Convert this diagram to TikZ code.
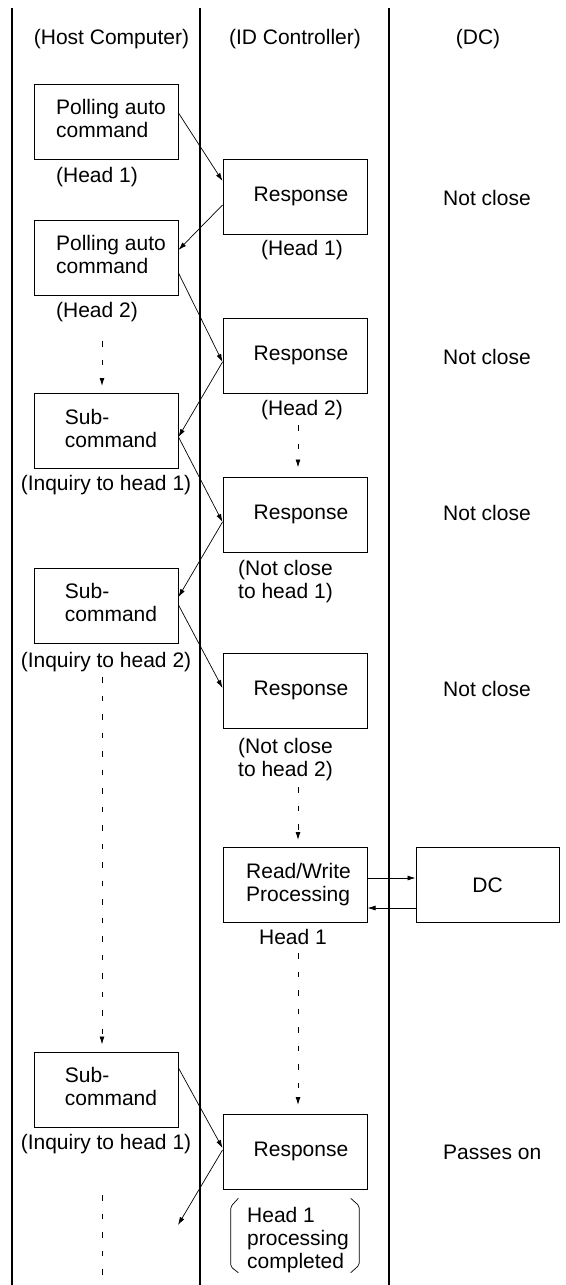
\documentclass[tikz,border=0pt]{standalone}
\usepackage{fontspec}
\setmainfont{Liberation Sans}
\usetikzlibrary{arrows.meta,calc}
\newcommand\mybt[2][10pt]{\hspace*{#1}\begin{tabular}{@{}l@{}}#2\end{tabular}}
\newcommand\mylt[1]{\begin{tabular}[t]{@{}l@{}}#1\end{tabular}}
\begin{document}
\begin{tikzpicture}[x=1pt,y=-1pt,
  every node/.style={font=\fontsize{21}{23}\selectfont, inner sep=0pt},
  box/.style={draw, line width=1pt, minimum width=144pt, minimum height=75pt},
  lbl/.style={anchor=base},
  lblw/.style={anchor=base west},
  lane/.style={line width=1.1pt},
  msg/.style={line width=0.7pt, -{Latex[length=8pt,width=5pt]}},
  dasharrow/.style={line width=0.9pt, dash pattern=on 5.5pt off 13pt, -{Latex[length=8pt,width=5pt]}, shorten >=8pt},
  dashline/.style={line width=0.9pt, dash pattern=on 5.5pt off 13pt},
  brk/.style={line width=0.7pt, rounded corners=2pt}]
\useasboundingbox (0,0) rectangle (565,1285);

% lanes
\draw[lane] (12,8) -- (12,1285);
\draw[lane] (200,8) -- (200,1285);
\draw[lane] (389,8) -- (389,1285);

% headers
\node[lbl] (th) at (111.5,44.5) {(Host Computer)};
\node[lbl] (ti) at (295,44.5) {(ID Controller)};
\node[lbl] (td) at (478,44.5) {(DC)};

% host boxes
\node[box] (h1) at (106,121.5) {\mybt{Polling auto\\command}};
\node[box] (h2) at (106,257.5) {\mybt{Polling auto\\command}};
\node[box] (h3) at (106,431) {\mybt{Sub-\\command}};
\node[box] (h4) at (106,605.5) {\mybt{Sub-\\command}};
\node[box] (h5) at (106,1089.5) {\mybt{Sub-\\command}};

% ID controller boxes
\node[box] (r1) at (295,197) {\mybt[12pt]{Response}};
\node[box] (r2) at (295,355.5) {\mybt[12pt]{Response}};
\node[box] (r3) at (295,514.5) {\mybt[12pt]{Response}};
\node[box] (r4) at (295,691) {\mybt[12pt]{Response}};
\node[box] (rw) at (295,885) {\mybt[7pt]{Read/Write\\Processing}};
\node[box] (r5) at (295,1152) {\mybt[12pt]{Response}};

% DC box
\node[box, minimum width=143pt] (dc) at (487.5,885) {DC};

% labels host side
\node[lbl] (lh1) at (97,182.5) {(Head 1)};
\node[lbl] (lh2) at (97,317.5) {(Head 2)};
\node[lbl] (lq1) at (106,490.5) {(Inquiry to head 1)};
\node[lbl] (lq2) at (106,667.5) {(Inquiry to head 2)};
\node[lbl] (lq3) at (106,1149.5) {(Inquiry to head 1)};

% labels ID side
\node[lbl] (lr1) at (302,255.5) {(Head 1)};
\node[lbl] (lr2) at (302,415.5) {(Head 2)};
\node[lblw] (lr3) at (238,575.5) {\mylt{(Not close\\to head 1)}};
\node[lblw] (lr4) at (238,753.5) {\mylt{(Not close\\to head 2)}};
\node[lbl] (lrw) at (293,944.5) {Head 1};
\node[lblw] (lr5) at (247,1222.5) {\mylt{Head 1\\processing\\completed}};

% DC column texts
\node[lblw] (n1) at (443,205.5) {Not close};
\node[lblw] (n2) at (443,364.5) {Not close};
\node[lblw] (n3) at (443,520.5) {Not close};
\node[lblw] (n4) at (443,696.5) {Not close};
\node[lblw] (n5) at (443,1159.5) {Passes on};

% message arrows
\draw[msg] ([yshift=8.5pt]h1.east) -- ([yshift=16pt]r1.west);
\draw[msg] ([yshift=-8pt]r1.west) -- ([yshift=7.5pt]h2.east);
\draw[msg] ([yshift=-15.5pt]h2.east) -- ([yshift=-6.5pt]r2.west);
\draw[msg] ([yshift=-6.5pt]r2.west) -- ([yshift=-6pt]h3.east);
\draw[msg] ([yshift=-6pt]h3.east) -- ([yshift=-7.5pt]r3.west);
\draw[msg] ([yshift=-7.5pt]r3.west) -- ([yshift=8.5pt]h4.east);
\draw[msg] ([yshift=0.5pt]h4.east) -- ([yshift=3pt]r4.west);
\draw[msg] ([yshift=21.5pt]h5.east) -- ([yshift=4pt]r5.west);
\coordinate (fe) at (178,1225);
\draw[msg] ([yshift=2pt]r5.west) -- (fe);
\draw[msg] ([yshift=7pt]rw.east) -- ([yshift=7pt]dc.west);
\draw[msg] ([yshift=-23pt]dc.west) -- ([yshift=-23pt]rw.east);

% dashed continuation arrows
\coordinate (d1) at (102,341);
\draw[dasharrow, shorten >=7pt] (d1) -- (d1 |- h3.north);
\coordinate (d2) at (298,425);
\draw[dasharrow, shorten >=9pt] (d2) -- (d2 |- r3.north);
\coordinate (d3) at (102,677);
\draw[dasharrow, shorten >=7pt] (d3) -- (d3 |- h5.north);
\coordinate (d4) at (298,787);
\draw[dasharrow, shorten >=7pt] (d4) -- (d4 |- rw.north);
\coordinate (d5) at (298,953);
\draw[dasharrow, shorten >=9pt] (d5) -- (d5 |- r5.north);
\coordinate (d6) at (102,1195);
\coordinate (d6e) at (102,1285);
\draw[dashline] (d6) -- (d6e);

% bracket around completion note
\draw[brk] (238.3,1198.3) -- (230.7,1206.7) -- (230.7,1266.7) -- (238.3,1272.7);
\draw[brk] (350.7,1198.3) -- (359.3,1206) -- (359.3,1265) -- (350.7,1272.7);
\end{tikzpicture}
\end{document}
